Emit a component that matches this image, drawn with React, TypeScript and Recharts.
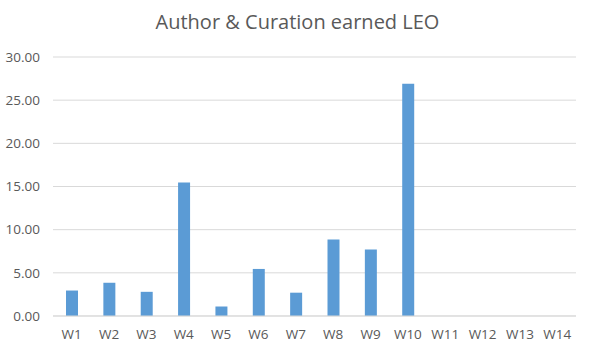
import { Bar, BarChart, CartesianGrid, XAxis, YAxis } from 'recharts';

const weeks = ['W1', 'W2', 'W3', 'W4', 'W5', 'W6', 'W7', 'W8', 'W9', 'W10', 'W11', 'W12', 'W13', 'W14'];
const earned = [2.95, 3.85, 2.8, 15.45, 1.1, 5.45, 2.7, 8.85, 7.7, 26.9, 0, 0, 0, 0];
const yTicks = [0, 5, 10, 15, 20, 25, 30];

const data = weeks.map((w, i) => ({ week: w, value: earned[i] }));

const FONT = '"Open Sans", "Liberation Sans", sans-serif';
const GREY = '#595959';

export default function App() {
  return (
    <div style={{ position: 'absolute', left: 0, top: 0, width: 595, height: 354, background: '#fff', fontFamily: FONT }}>
      <div
        style={{
          position: 'absolute',
          top: 8,
          left: 0,
          width: 595,
          textAlign: 'center',
          fontSize: 20,
          color: GREY,
          lineHeight: '28px',
        }}
      >
        Author &amp; Curation earned LEO
      </div>
      <BarChart
        width={595}
        height={354}
        data={data}
        margin={{ top: 57, right: 19, bottom: 6, left: 0 }}
        barCategoryGap={0}
      >
        <CartesianGrid vertical={false} stroke="#d9d9d9" />
        <XAxis
          dataKey="week"
          axisLine={{ stroke: '#d9d9d9' }}
          tickLine={false}
          tickMargin={7}
          height={32}
          interval={0}
          tick={{ fill: GREY, fontSize: 13.5, fontFamily: FONT }}
        />
        <YAxis
          domain={[0, 30]}
          ticks={yTicks}
          width={53}
          axisLine={false}
          tickLine={false}
          tickMargin={7}
          tickFormatter={(v: number) => v.toFixed(2)}
          tick={{ fill: GREY, fontSize: 13.5, fontFamily: FONT }}
        />
        <Bar dataKey="value" fill="#5B9BD5" barSize={12} isAnimationActive={false} />
      </BarChart>
    </div>
  );
}
